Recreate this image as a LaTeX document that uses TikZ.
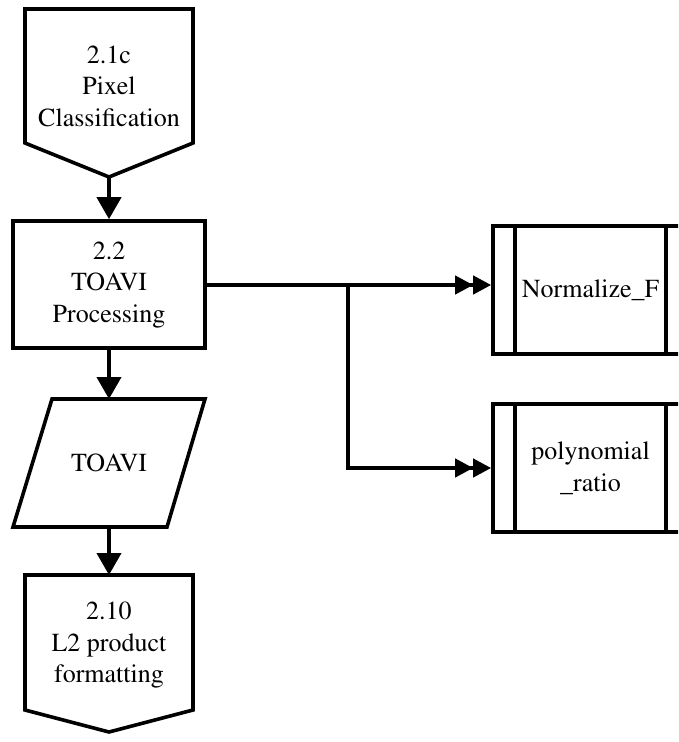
\documentclass[tikz,border=0pt]{standalone}
\usepackage[T1]{fontenc}
\usepackage{mathptmx}
\usetikzlibrary{arrows.meta,calc}

\tikzset{
  x=1pt, y=-1pt,
  txt/.style={align=center, font=\rmfamily\fontsize{26}{31.5}\selectfont, inner sep=0pt},
  frame/.style={draw=black, line width=3.6pt, inner sep=0pt},
  hid/.style={inner sep=0pt, outer sep=0pt},
  outline/.style={draw=black, line width=3.6pt, line join=miter},
  flow/.style={line width=4pt, -{Triangle[length=22pt,width=24pt]}},
  call/.style={line width=4pt, -{Triangle[length=18pt,width=18pt]Triangle[length=18pt,width=18pt]}},
}

\begin{document}
\begin{tikzpicture}
\useasboundingbox (0,0) rectangle (678,742);
\clip (0,0) rectangle (678,742);

% 2.1c -- off-page connector (pentagon pointing down)
\node[hid, minimum width=168pt, minimum height=168pt] (p21) at (109,93) {};
\draw[outline] (p21.north west) -- (p21.north east) -- ($(p21.south east)+(0,-34)$)
  -- (p21.south) -- ($(p21.south west)+(0,-34)$) -- cycle;
\node[txt] at (109,86) {2.1c\\Pixel\\Classification};

% 2.2 -- processing step
\node[frame, txt, minimum width=192pt, minimum height=127pt] (b22) at (109,284.5)
  {2.2\\TOAVI\\Processing};

% TOAVI -- data (parallelogram)
\node[hid, minimum width=192pt, minimum height=128pt] (dat) at (109,463) {};
\draw[outline] ($(dat.north west)+(39,0)$) -- (dat.north east)
  -- ($(dat.south east)+(-38,0)$) -- (dat.south west) -- cycle;
\node[txt] at (109,463) {TOAVI};

% 2.10 -- off-page connector (pentagon pointing down)
\node[hid, minimum width=168pt, minimum height=157pt] (p210) at (109,653.5) {};
\draw[outline] (p210.north west) -- (p210.north east) -- ($(p210.south east)+(0,-22)$)
  -- (p210.south) -- ($(p210.south west)+(0,-22)$) -- cycle;
\node[txt] at (109,645) {2.10\\L2 product\\formatting};

% predefined processes on the right
\node[frame, txt, minimum width=195pt, minimum height=128pt] (nf) at (590.5,290)
  {Normalize\_F};
\draw[line width=3.6pt] ($(nf.north west)+(24,0)$) -- ($(nf.south west)+(24,0)$);
\draw[line width=3.6pt] ($(nf.north east)+(-24,0)$) -- ($(nf.south east)+(-24,0)$);

\node[frame, txt, minimum width=195pt, minimum height=128pt] (pr) at (590.5,468)
  {polynomial\\\_ratio};
\draw[line width=3.6pt] ($(pr.north west)+(24,0)$) -- ($(pr.south west)+(24,0)$);
\draw[line width=3.6pt] ($(pr.north east)+(-24,0)$) -- ($(pr.south east)+(-24,0)$);

% connectors
\coordinate (split) at (348,285);
\draw[flow] (p21.south) -- (b22.north);
\draw[flow] (b22.south) -- (dat.north);
\draw[flow] (dat.south) -- (p210.north);
\draw[call] (b22.east |- split) -- (nf.west |- split);
\draw[call] (split) |- (pr.west);
\end{tikzpicture}
\end{document}
